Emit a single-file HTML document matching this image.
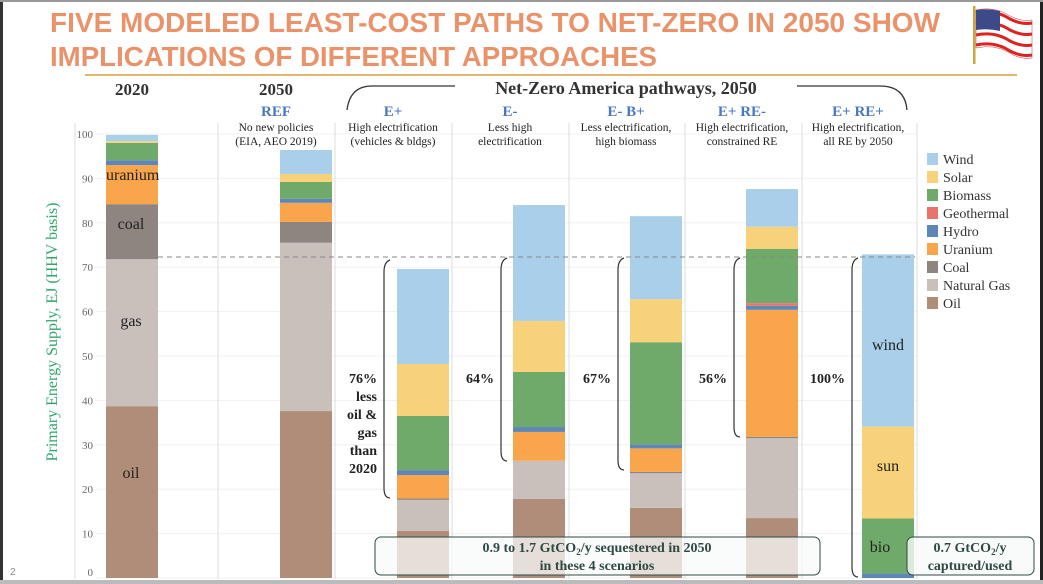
<!DOCTYPE html>
<html><head><meta charset="utf-8"><style>
html,body{margin:0;padding:0;background:#fff;}
svg{display:block;}
.serif{font-family:"Liberation Serif",serif;}
</style></head><body>
<svg id="chart" width="1043" height="584" viewBox="0 0 1043 584" xmlns="http://www.w3.org/2000/svg">
<rect x="0" y="0" width="1043" height="584" fill="#fff"/>
<rect x="0" y="0" width="3" height="584" fill="#333"/>
<rect x="1040" y="0" width="3" height="584" fill="#222"/>
<rect x="0" y="0" width="1043" height="2" fill="#999"/>
<rect x="0" y="580" width="1043" height="4" fill="#bbb"/>
<g font-family="Liberation Sans, sans-serif" font-weight="bold" font-size="28" fill="#EA936A">
<text x="50" y="32" textLength="890" lengthAdjust="spacingAndGlyphs">FIVE MODELED LEAST-COST PATHS TO NET-ZERO IN 2050 SHOW</text>
<text x="50" y="66" textLength="607" lengthAdjust="spacingAndGlyphs">IMPLICATIONS OF DIFFERENT APPROACHES</text>
</g>
<rect x="85" y="74" width="932" height="2" fill="#E2B66C"/>
<g>
<rect x="973" y="6" width="2.5" height="58" fill="#C9A640"/>
<path d="M976,10 Q995,6 1010,16 Q1022,22 1032,20 L1032,58 Q1020,60 1008,52 Q994,44 976,48 Z" fill="#fff" stroke="#c33" stroke-width="0.5"/>
<g stroke="#D22" stroke-width="3" fill="none">
<path d="M976,13 Q995,9 1010,19 Q1022,25 1032,23"/>
<path d="M976,24 Q995,20 1010,30 Q1022,36 1032,34"/>
<path d="M976,35 Q995,31 1010,41 Q1022,47 1032,45"/>
<path d="M976,45 Q995,41 1010,51 Q1022,57 1032,55"/>
</g>
<path d="M976,10 Q988,8 1000,11 L1000,31 Q988,28 976,30 Z" fill="#3C4A8A"/>
</g>
<g id="grid"></g>
<g id="bars"></g>
<g id="axis" class="serif"></g>
<text x="10" y="575" font-size="10" fill="#888" font-family="Liberation Sans, sans-serif">2</text>
<text transform="translate(57,332) rotate(-90)" text-anchor="middle" font-size="16" fill="#2FA66A" class="serif">Primary Energy Supply, EJ (HHV basis)</text>
<g class="serif" font-weight="bold" font-size="17" fill="#333" text-anchor="middle">
<text x="132" y="95">2020</text>
<text x="276" y="95">2050</text>
<text x="626" y="94" font-size="18">Net-Zero America pathways, 2050</text>
</g>
<path d="M347,110 Q350,86 372,86 L455,86 M797,86 L880,86 Q905,86 907,110" fill="none" stroke="#333" stroke-width="1.3"/>
<g id="heads" class="serif" text-anchor="middle"></g>
<g id="legend" class="serif" font-size="14" fill="#333"></g>
<g id="notes" class="serif"></g>
<script>
const categories = ["2020","REF","E+","E-","E- B+","E+ RE-","E+ RE+"];
const seriesNames = ["Oil","Natural Gas","Coal","Uranium","Hydro","Geothermal","Biomass","Solar","Wind"];
const oil        = [38.7, 37.6, 10.6, 17.8, 15.8, 13.5, 0];
const naturalGas = [33.1, 37.9,  7.0,  8.6,  7.8, 18.0, 0];
const coal       = [12.4,  4.7,  0.3,  0,    0.3,  0.3, 0];
const uranium    = [ 8.8,  4.3,  5.3,  6.5,  5.3, 28.6, 0];
const hydro      = [ 1.1,  0.9,  1.1,  1.1,  0.9,  0.9, 1.0];
const geothermal = [ 0,    0,    0,    0,    0,    0.6, 0];
const biomass    = [ 3.9,  3.8, 12.2, 12.4, 23.0, 12.2, 12.4];
const solar      = [ 0.4,  1.8, 11.7, 11.5,  9.7,  5.0, 20.7];
const wind       = [ 1.4,  5.4, 21.4, 26.1, 18.7,  8.5, 38.8];
const yTicks = [0,10,20,30,40,50,60,70,80,90,100];
const refLine = 72.3;
const pctLabels = ["76%","64%","67%","56%","100%"];

const NS="http://www.w3.org/2000/svg";
const colors=["#B08D78","#C9C0BC","#8E8581","#F9A54C","#5D86B9","#E8736B","#6FAA6A","#F7D27A","#A9CFEA"];
const series=[oil,naturalGas,coal,uranium,hydro,geothermal,biomass,solar,wind];
const barLeft=[106,280,397,513,630,746,862];
const barW=52;
const y0=578, pxPer=4.44;
function y(v){return y0-v*pxPer;}
function mk(tag,attrs,parent,txt){const e=document.createElementNS(NS,tag);for(const k in attrs)e.setAttribute(k,attrs[k]);if(txt!==undefined)e.textContent=txt;parent.appendChild(e);return e;}
const grid=document.getElementById('grid');
yTicks.forEach(t=>{
  const l=mk('line',{x1:95,x2:917,y1:y(t),y2:y(t),stroke:'#f0f0f0','stroke-width':1},grid);
  
  
});
[75,218,335,452,569,685,802,917].forEach((x,i)=>{
  const l=mk('line',{x1:x,x2:x,y1:i===0?123:(i>=2?123:123),y2:579,stroke:'#ddd','stroke-width':1},grid);
  
  
});
const axis=document.getElementById('axis');
yTicks.forEach(t=>{
  const tx=mk('text',{x:93,y:y(t)+(t===0?-2:4),'text-anchor':'end','font-size':11,fill:'#666'},axis,String(t));
  
  
});
const bars=document.getElementById('bars');
categories.forEach((c,i)=>{
  let acc=0;
  series.forEach((s,j)=>{
    const v=s[i]; if(v<=0) return;
    const r=mk('rect',{x:barLeft[i],y:y(acc+v),width:barW,height:v*pxPer,fill:colors[j]},bars);
    
    
    acc+=v;
  });
});
const dl=mk('line',{x1:158,x2:915,y1:y(refLine),y2:y(refLine),stroke:'#888','stroke-width':1,'stroke-dasharray':'5,4'},bars);


// bar labels
const lbl=[["uranium",106,180,"start"],["coal",131,229,"middle"],["gas",131,326,"middle"],["oil",131,478,"middle"],["wind",888,350,"middle"],["sun",888,471,"middle"],["bio",880,552,"middle"]];
lbl.forEach(a=>{
  const t=mk('text',{x:a[1],y:a[2],'text-anchor':a[3],'font-size':16,fill:'#222','font-family':'Liberation Serif, serif'},bars,a[0]);
  
  
});
// headers
const heads=document.getElementById('heads');
const hd=[[276,"REF","No new policies","(EIA, AEO 2019)"],[393,"E+","High electrification","(vehicles & bldgs)"],[510,"E-","Less high","electrification"],[626,"E- B+","Less electrification,","high biomass"],[742,"E+ RE-","High electrification,","constrained RE"],[858,"E+ RE+","High electrification,","all RE by 2050"]];
hd.forEach(h=>{
  const a=mk('text',{x:h[0],y:116,'font-size':15,'font-weight':'bold',fill:'#4A78C0'},heads,h[1]);
  
  
  const b=mk('text',{x:h[0],y:131,'font-size':11.5,fill:'#222'},heads,h[2]);
  
  
  const d=mk('text',{x:h[0],y:145,'font-size':11.5,fill:'#222'},heads,h[3]);
  
  
});
// legend
const lg=document.getElementById('legend');
for(let j=8;j>=0;j--){
  const row=8-j, yy=160+row*18;
  const r=mk('rect',{x:927,y:yy-7,width:11,height:12,fill:colors[j]},lg);
  
  
  const t=mk('text',{x:943,y:yy+4},lg,seriesNames[j]);
  
  
}
// brackets & percentages
const notes=document.getElementById('notes');
const br=[[384,260,498],[501,258,461],[618,258,470],[734,258,437],[852,258,577]];
br.forEach((b,i)=>{
  const p=mk('path',{d:`M${b[0]+6},${b[1]} Q${b[0]},${b[1]+2} ${b[0]},${b[1]+12} L${b[0]},${b[2]-10} Q${b[0]},${b[2]} ${b[0]+6},${b[2]}`,fill:'none',stroke:'#333','stroke-width':1.2},notes);
  
  
  const t=mk('text',{x:b[0]-7,y:383,'text-anchor':'end','font-size':14,'font-weight':'bold',fill:'#222'},notes,pctLabels[i]);
  
  
});
["less","oil &","gas","than","2020"].forEach((s,k)=>{
  const t=mk('text',{x:377,y:401+k*18,'text-anchor':'end','font-size':14,'font-weight':'bold',fill:'#222'},notes,s);
  
  
});
const b1=mk('rect',{x:375,y:537,width:445,height:38,rx:6,fill:'rgba(248,250,249,0.75)',stroke:'#2f4a44','stroke-width':1},notes);


const b2=mk('rect',{x:907,y:537,width:127,height:38,rx:6,fill:'rgba(248,250,249,0.8)',stroke:'#2f4a44','stroke-width':1},notes);


</script>
<g class="serif" font-size="14" font-weight="bold" fill="#2f4a44" text-anchor="middle">
<text x="597" y="552">0.9 to 1.7 GtCO<tspan font-size="9" dy="3">2</tspan><tspan dy="-3">/y sequestered in 2050</tspan></text>
<text x="597" y="570">in these 4 scenarios</text>
<text x="970" y="552">0.7 GtCO<tspan font-size="9" dy="3">2</tspan><tspan dy="-3">/y</tspan></text>
<text x="970" y="570">captured/used</text>
</g>
</svg>
</body></html>
